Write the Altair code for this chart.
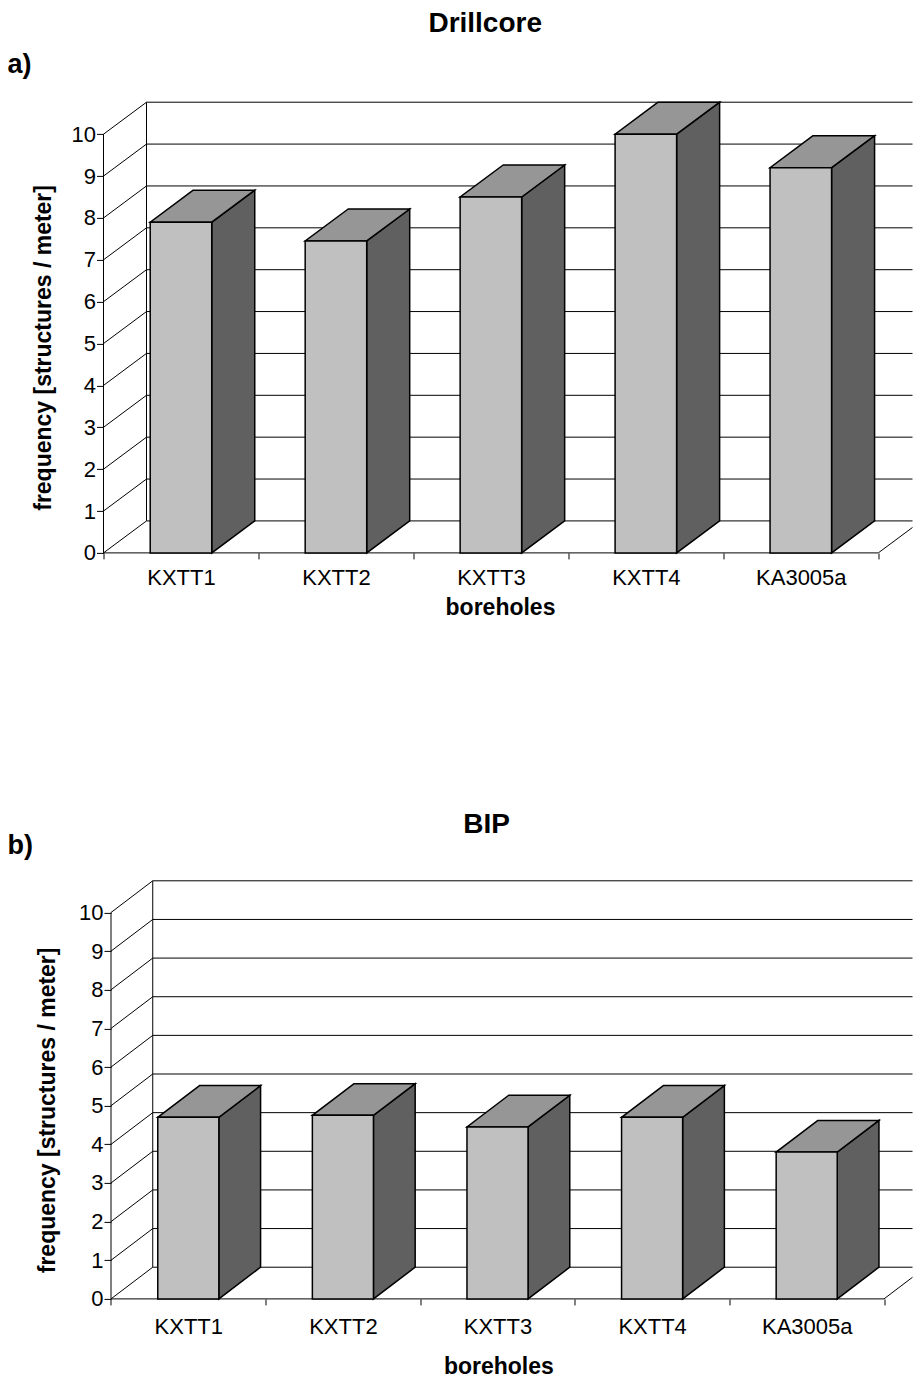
import json

import altair as alt
import pandas as pd

# Fracture frequency per borehole, two data sources
boreholes = ["KXTT1", "KXTT2", "KXTT3", "KXTT4", "KA3005a"]
drillcore_freq = [7.9, 7.45, 8.5, 10.0, 9.2]
bip_freq = [4.7, 4.75, 4.45, 4.7, 3.8]
freq_ticks = [0, 1, 2, 3, 4, 5, 6, 7, 8, 9, 10]

FONT = "Liberation Sans, Arial, Helvetica, sans-serif"
FRONT = "#c0c0c0"
TOP = "#969696"
SIDE = "#606060"
INK = "#000000"


def build_panel(values, heading, tag, g):
    """One pseudo-3D column chart: back wall, side wall, floor and prism bars."""
    n = len(boreholes)
    dx, dy = g["depth_x"], g["depth_y"]
    half = g["bar_w"] / 2
    far_x = g["x_domain"][1] + 1.0

    xscale = alt.Scale(domain=g["x_domain"], nice=False, zero=False)
    yscale = alt.Scale(domain=g["y_domain"], nice=False, zero=False)

    label_expr = (
        "datum.value % 1 === 0 ? '' : "
        + json.dumps(boreholes)
        + "[floor(datum.value)]"
    )
    xaxis = alt.Axis(
        values=[i / 2 for i in range(2 * n + 1)],
        labelExpr=label_expr,
        labelFlush=False,
        labelOverlap=False,
        labelFont=FONT,
        labelFontSize=22,
        labelColor=INK,
        labelPadding=g["xlabel_pad"],
        domain=False,
        grid=False,
        tickSize=6,
        tickColor=INK,
        tickWidth=1,
        tickOpacity={"condition": {"test": "datum.value % 1 === 0", "value": 1}, "value": 0},
        title="boreholes",
        titleFont=FONT,
        titleFontSize=23,
        titleFontWeight="bold",
        titleColor=INK,
        titleAlign="center",
        titleBaseline="alphabetic",
        titleX=g["xtitle"][0],
        titleY=g["xtitle"][1],
    )
    yaxis = alt.Axis(
        values=freq_ticks,
        labelFont=FONT,
        labelFontSize=22,
        labelColor=INK,
        labelPadding=1,
        domain=False,
        grid=False,
        tickSize=7,
        tickColor=INK,
        tickWidth=1,
        offset=g["yaxis_offset"],
        title="frequency [structures / meter]",
        titleFont=FONT,
        titleFontSize=23,
        titleFontWeight="bold",
        titleColor=INK,
        titleAngle=270,
        titleAlign="center",
        titleBaseline="middle",
        titleX=g["ytitle"][0],
        titleY=g["ytitle"][1],
    )

    def X(field):
        return alt.X(f"{field}:Q", scale=xscale, axis=xaxis)

    def Y(field):
        return alt.Y(f"{field}:Q", scale=yscale, axis=yaxis, stack=False)

    lo, hi = min(freq_ticks), max(freq_ticks)

    # back wall gridlines (the top one is the wall's upper border)
    grid = pd.DataFrame({"k": freq_ticks})
    grid["y"] = grid["k"] + dy
    grid["x0"] = dx
    grid["x1"] = far_x
    grid_layer = alt.Chart(grid).mark_rule(color=INK, strokeWidth=1, clip=True).encode(
        x=X("x0"), x2=alt.X2("x1"), y=Y("y")
    )

    # side wall: receding lines from each front tick to the back wall
    wall = pd.DataFrame({"k": freq_ticks})
    wall["x0"] = 0.0
    wall["x1"] = dx
    wall["y0"] = wall["k"]
    wall["y1"] = wall["k"] + dy
    wall_layer = alt.Chart(wall).mark_rule(color=INK, strokeWidth=1).encode(
        x=X("x0"), x2=alt.X2("x1"), y=Y("y0"), y2=alt.Y2("y1")
    )

    # vertical edges: front value axis and back-wall left border
    edges = pd.DataFrame(
        {"x": [0.0, dx], "y0": [lo, lo + dy], "y1": [hi, hi + dy]}
    )
    edge_layer = alt.Chart(edges).mark_rule(color=INK, strokeWidth=1).encode(
        x=X("x"), y=Y("y0"), y2=alt.Y2("y1")
    )

    # floor: front edge and receding right edge
    floor_front = pd.DataFrame({"x0": [0.0], "x1": [float(n)], "y": [0.0]})
    floor_front_layer = alt.Chart(floor_front).mark_rule(color=INK, strokeWidth=1).encode(
        x=X("x0"), x2=alt.X2("x1"), y=Y("y")
    )
    floor_side = pd.DataFrame(
        {"x0": [float(n)], "x1": [n + dx], "y0": [0.0], "y1": [dy]}
    )
    floor_side_layer = alt.Chart(floor_side).mark_rule(
        color=INK, strokeWidth=1, clip=True
    ).encode(x=X("x0"), x2=alt.X2("x1"), y=Y("y0"), y2=alt.Y2("y1"))

    # bar prisms
    bars = pd.DataFrame({"name": boreholes, "value": values})
    bars["centre"] = [i + 0.5 for i in range(n)]
    bars["xl"] = bars["centre"] - half
    bars["xr"] = bars["centre"] + half
    bars["base"] = 0.0

    side_rows, top_rows = [], []
    for _, r in bars.iterrows():
        for t in (0, 1):
            side_rows.append(
                {"name": r["name"], "x": r["xr"] + dx * t,
                 "top": r["value"] + dy * t, "bottom": dy * t}
            )
            top_rows.append(
                {"name": r["name"], "y": r["value"] + dy * t,
                 "xl": r["xl"] + dx * t, "xr": r["xr"] + dx * t}
            )
    side = pd.DataFrame(side_rows)
    top = pd.DataFrame(top_rows)

    side_layer = alt.Chart(side).mark_area(
        color=SIDE, stroke=INK, strokeWidth=1.5, strokeJoin="miter", opacity=1
    ).encode(x=X("x"), y=Y("top"), y2=alt.Y2("bottom"), detail="name:N")

    top_layer = alt.Chart(top).mark_area(
        orient="horizontal", color=TOP, stroke=INK, strokeWidth=1.5,
        strokeJoin="miter", opacity=1
    ).encode(y=Y("y"), x=X("xl"), x2=alt.X2("xr"), detail="name:N")

    front_layer = alt.Chart(bars).mark_rect(
        color=FRONT, stroke=INK, strokeWidth=1.5
    ).encode(x=X("xl"), x2=alt.X2("xr"), y=Y("base"), y2=alt.Y2("value"))

    # heading and panel tag
    head = pd.DataFrame({"label": [heading]})
    head_layer = alt.Chart(head).mark_text(
        font=FONT, fontSize=28, fontWeight="bold", align="center",
        baseline="alphabetic", color=INK
    ).encode(x=alt.value(g["head"][0]), y=alt.value(g["head"][1]), text="label:N")

    tag_df = pd.DataFrame({"label": [tag]})
    tag_layer = alt.Chart(tag_df).mark_text(
        font=FONT, fontSize=27, fontWeight="bold", align="left",
        baseline="alphabetic", color=INK
    ).encode(x=alt.value(g["tag"][0]), y=alt.value(g["tag"][1]), text="label:N")

    return alt.layer(
        grid_layer, wall_layer, edge_layer, floor_front_layer, floor_side_layer,
        side_layer, top_layer, front_layer, head_layer, tag_layer,
    ).properties(width=g["width"], height=g["height"])


geom_a = dict(
    width=809, height=452,
    x_domain=[0.0, 809 / 154.96], y_domain=[0.0, 452 / 41.87],
    depth_x=0.2775, depth_y=0.764, bar_w=0.397,
    yaxis_offset=0, ytitle=(-60.5, 246.5), xtitle=(396.5, 61.3), xlabel_pad=9,
    head=(381.7, -68.7), tag=(-96, -27.7),
)
geom_b = dict(
    width=809, height=419,
    x_domain=[-7.5 / 154.6, -7.5 / 154.6 + 809 / 154.6], y_domain=[0.0, 419 / 38.64],
    depth_x=0.27, depth_y=0.82, bar_w=0.395,
    yaxis_offset=-7.5, ytitle=(-63.5, 230), xtitle=(394.8, 74.3), xlabel_pad=11.3,
    head=(383, -46.8), tag=(-96, -26.3),
)

panel_a = build_panel(drillcore_freq, "Drillcore", "a)", geom_a)
panel_b = build_panel(bip_freq, "BIP", "b)", geom_b)

chart = (
    alt.vconcat(panel_a, panel_b, spacing=327, bounds="flush")
    .properties(padding={"left": 7.5, "top": 9.9, "right": 0, "bottom": 0})
    .configure_view(strokeWidth=0)
)

chart.save("out.html", embed_options={"renderer": "svg", "actions": False})
